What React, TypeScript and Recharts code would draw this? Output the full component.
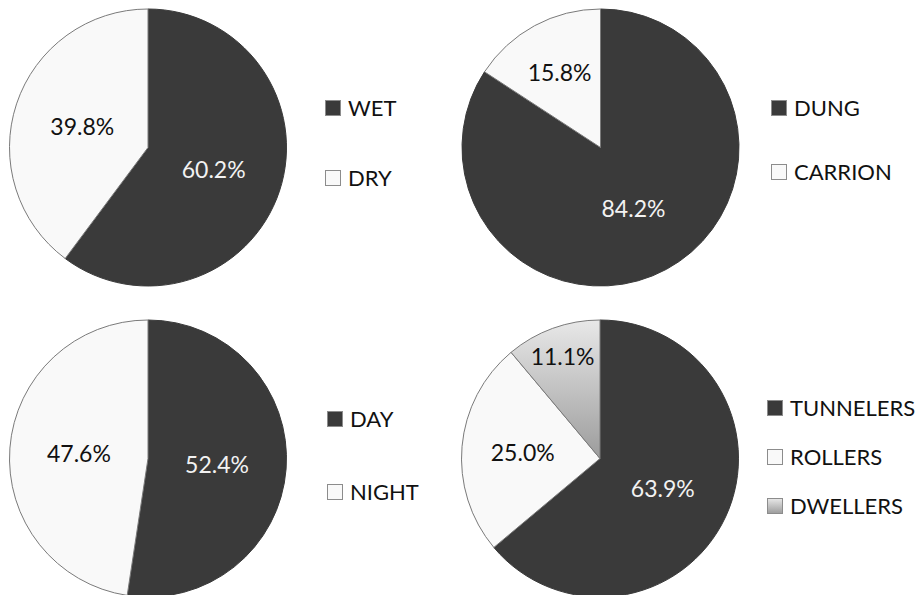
import React from 'react';
import { PieChart, Pie, Cell, Legend } from 'recharts';

// season of collection
const seasonNames = ['WET', 'DRY'];
const seasonValues = [60.2, 39.8];

// food resource
const foodNames = ['DUNG', 'CARRION'];
const foodValues = [84.2, 15.8];

// diel activity
const activityNames = ['DAY', 'NIGHT'];
const activityValues = [52.4, 47.6];

// functional guild
const guildNames = ['TUNNELERS', 'ROLLERS', 'DWELLERS'];
const guildValues = [63.9, 25.0, 11.1];

const W = 919;
const H = 595;
const FONT = 'Lato, "Open Sans", sans-serif';
const DARK = '#3a3a3a';
const LIGHT = '#f9f9f9';
const GRAD = 'url(#dwellersFill)';
const RADIAN = Math.PI / 180;

const toRows = (names: string[], values: number[]) =>
  names.map((name, i) => ({ name, value: values[i] }));

const makeLabel = (textColors: string[]) => (props: any) => {
  const { cx, cy, midAngle, outerRadius, percent, index, value } = props;
  // small slices get their labels pushed outwards, like Excel's best fit
  let k = 0.5;
  if (percent < 0.13) k = 0.79;
  else if (percent < 0.2) k = 0.62;
  else if (percent < 0.3) k = 0.56;
  const r = outerRadius * k;
  const x = cx + r * Math.cos(-midAngle * RADIAN);
  const y = cy + r * Math.sin(-midAngle * RADIAN);
  return (
    <text
      x={x}
      y={y}
      fill={textColors[index]}
      textAnchor="middle"
      dominantBaseline="central"
      fontSize={23}
      fontFamily={FONT}
    >
      {Number(value).toFixed(1)}%
    </text>
  );
};

type BlockProps = {
  names: string[];
  values: number[];
  fills: string[];
  strokes: string[];
  textColors: string[];
  cx: number;
  cy: number;
  r: number;
  legendX: number;
  legendY: number;
  gap: number;
};

const PieBlock: React.FC<BlockProps> = ({
  names, values, fills, strokes, textColors, cx, cy, r, legendX, legendY, gap
}) => {
  const rows = toRows(names, values);
  return (
    <div style={{ position: 'absolute', left: 0, top: 0, width: W, height: H }}>
      <PieChart width={W} height={H} margin={{ top: 0, right: 0, bottom: 0, left: 0 }}>
        <Pie
          data={rows}
          dataKey="value"
          nameKey="name"
          cx={cx}
          cy={cy}
          outerRadius={r}
          startAngle={90}
          endAngle={-270}
          label={makeLabel(textColors)}
          labelLine={false}
          isAnimationActive={false}
        >
          {rows.map((row, i) => (
            <Cell key={row.name} fill={fills[i]} stroke={strokes[i]} strokeWidth={1} />
          ))}
        </Pie>
        <Legend
          layout="vertical"
          align="center"
          verticalAlign="middle"
          wrapperStyle={{ left: legendX, top: legendY - 12, width: 'auto', height: 'auto' }}
          content={() => (
            <div style={{ fontFamily: FONT, fontSize: 22, color: '#111' }}>
              {names.map((name, i) => (
                <div
                  key={name}
                  style={{
                    display: 'flex',
                    alignItems: 'center',
                    height: 24,
                    marginTop: i === 0 ? 0 : gap - 24
                  }}
                >
                  <svg width={16} height={16} style={{ marginRight: 7, display: 'block' }}>
                    <rect x={0.5} y={0.5} width={15} height={15} fill={fills[i]} stroke="#8c8c8c" />
                  </svg>
                  <span style={{ lineHeight: '24px' }}>{name}</span>
                </div>
              ))}
            </div>
          )}
        />
      </PieChart>
    </div>
  );
};

export default function App() {
  return (
    <div
      style={{
        position: 'absolute',
        left: 0,
        top: 0,
        width: W,
        height: H,
        background: '#fff',
        overflow: 'hidden',
        fontFamily: FONT
      }}
    >
      <svg width={0} height={0} style={{ position: 'absolute' }}>
        <defs>
          <linearGradient id="dwellersFill" x1="0" y1="0" x2="0" y2="1">
            <stop offset="0%" stopColor="#e8e8e8" />
            <stop offset="100%" stopColor="#9c9c9c" />
          </linearGradient>
        </defs>
      </svg>
      <PieBlock
        names={seasonNames}
        values={seasonValues}
        fills={[DARK, LIGHT]}
        strokes={[DARK, '#7a7a7a']}
        textColors={['#f2f2f2', '#111']}
        cx={148}
        cy={147.5}
        r={138.5}
        legendX={325}
        legendY={108}
        gap={70}
      />
      <PieBlock
        names={foodNames}
        values={foodValues}
        fills={[DARK, LIGHT]}
        strokes={[DARK, '#7a7a7a']}
        textColors={['#f2f2f2', '#111']}
        cx={600.5}
        cy={147.5}
        r={138.5}
        legendX={771}
        legendY={108}
        gap={64}
      />
      <PieBlock
        names={activityNames}
        values={activityValues}
        fills={[DARK, LIGHT]}
        strokes={[DARK, '#7a7a7a']}
        textColors={['#f2f2f2', '#111']}
        cx={148}
        cy={458.5}
        r={138.5}
        legendX={327}
        legendY={419}
        gap={73}
      />
      <PieBlock
        names={guildNames}
        values={guildValues}
        fills={[DARK, LIGHT, GRAD]}
        strokes={[DARK, '#7a7a7a', '#7a7a7a']}
        textColors={['#f2f2f2', '#111', '#111']}
        cx={600}
        cy={458.5}
        r={138.5}
        legendX={767}
        legendY={408}
        gap={49}
      />
    </div>
  );
}
